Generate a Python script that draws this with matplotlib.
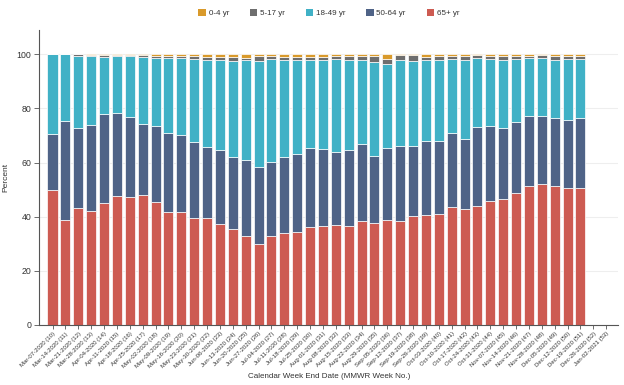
import numpy as np
import matplotlib
matplotlib.use("Agg")
import matplotlib.pyplot as plt
from matplotlib.patches import Patch

plt.rcParams['font.family'] = ['Liberation Sans', 'DejaVu Sans']

weeks = ["Mar-07-2020 (10)", "Mar-14-2020 (11)", "Mar-21-2020 (12)", "Mar-28-2020 (13)",
         "Apr-04-2020 (14)", "Apr-11-2020 (15)", "Apr-18-2020 (16)", "Apr-25-2020 (17)",
         "May-02-2020 (18)", "May-09-2020 (19)", "May-16-2020 (20)", "May-23-2020 (21)",
         "May-30-2020 (22)", "Jun-06-2020 (23)", "Jun-13-2020 (24)", "Jun-20-2020 (25)",
         "Jun-27-2020 (26)", "Jul-04-2020 (27)", "Jul-11-2020 (28)", "Jul-18-2020 (29)",
         "Jul-25-2020 (30)", "Aug-01-2020 (31)", "Aug-08-2020 (32)", "Aug-15-2020 (33)",
         "Aug-22-2020 (34)", "Aug-29-2020 (35)", "Sep-05-2020 (36)", "Sep-12-2020 (37)",
         "Sep-19-2020 (38)", "Sep-26-2020 (39)", "Oct-03-2020 (40)", "Oct-10-2020 (41)",
         "Oct-17-2020 (42)", "Oct-24-2020 (43)", "Oct-31-2020 (44)", "Nov-07-2020 (45)",
         "Nov-14-2020 (46)", "Nov-21-2020 (47)", "Nov-28-2020 (48)", "Dec-05-2020 (49)",
         "Dec-12-2020 (50)", "Dec-19-2020 (51)", "Dec-26-2020 (52)", "Jan-02-2021 (53)"]

age_65_plus = [49.8, 38.7, 43.1, 42.1, 44.9, 47.7, 47.4, 48.0, 45.4, 41.9, 41.7, 39.7,
               39.5, 37.3, 35.4, 33.0, 30.0, 32.8, 33.9, 34.4, 36.3, 36.7, 36.8, 36.4,
               38.4, 37.6, 38.7, 38.3, 40.3, 40.7, 41.0, 43.5, 42.9, 44.0, 45.9, 46.5,
               48.6, 51.3, 52.0, 51.5, 50.7, 50.7]
age_50_64 = [20.6, 36.8, 29.7, 31.7, 33.0, 30.5, 29.4, 26.4, 28.0, 29.1, 28.5, 28.0,
             26.3, 27.3, 26.5, 27.9, 28.2, 27.3, 28.0, 28.6, 29.0, 28.2, 27.2, 28.4,
             28.6, 24.9, 26.6, 27.8, 26.0, 27.3, 26.9, 27.5, 25.7, 29.3, 27.8, 26.4,
             26.3, 25.9, 25.2, 25.0, 25.2, 25.7]
age_18_49 = [29.6, 24.5, 26.6, 25.5, 21.1, 21.2, 22.7, 24.7, 25.3, 27.8, 28.5, 30.5,
             32.1, 33.2, 35.6, 37.1, 39.4, 38.2, 36.1, 35.1, 32.6, 33.2, 34.2, 33.0,
             30.8, 34.6, 31.2, 31.8, 31.2, 29.8, 29.9, 27.2, 29.4, 25.2, 24.7, 24.9,
             23.4, 21.6, 21.3, 21.5, 22.4, 21.9]
age_5_17 = [0.0, 0.0, 0.6, 0.3, 0.6, 0.3, 0.2, 0.5, 0.8, 0.7, 0.7, 1.1,
            1.2, 1.1, 1.4, 0.7, 1.7, 1.2, 1.0, 0.9, 1.1, 1.1, 1.1, 1.6,
            1.7, 2.2, 1.7, 1.7, 2.1, 1.2, 1.5, 1.3, 1.5, 1.1, 1.1, 1.5,
            1.2, 0.7, 1.1, 1.4, 1.0, 1.1]
age_0_4 = [0.0, 0.0, 0.0, 0.4, 0.4, 0.3, 0.3, 0.4, 0.5, 0.5, 0.6, 0.7,
           0.9, 1.1, 1.1, 1.3, 0.7, 0.5, 1.0, 1.0, 1.0, 0.8, 0.7, 0.6,
           0.5, 0.7, 1.8, 0.4, 0.4, 1.0, 0.7, 0.5, 0.5, 0.4, 0.5, 0.7,
           0.5, 0.5, 0.4, 0.6, 0.7, 0.6]

series = [("65+ yr", age_65_plus, "#CD5B52"),
          ("50-64 yr", age_50_64, "#4F6387"),
          ("18-49 yr", age_18_49, "#40B1C6"),
          ("5-17 yr", age_5_17, "#6E6E6E"),
          ("0-4 yr", age_0_4, "#D99A2B")]

fig = plt.figure(figsize=(6.24, 3.85), dpi=100)
ax = fig.add_axes([0.0625, 0.156, 0.9275, 0.766])

x = np.arange(len(age_65_plus))
bottom = np.zeros(len(x))
for name, vals, col in series:
    v = np.array(vals)
    ax.bar(x, v, bottom=bottom, width=0.78, color=col, edgecolor="white",
           linewidth=0.5, zorder=2)
    bottom += v

ax.set_xlim(-1.05, 43.9)
ax.set_ylim(0, 109)
ax.set_yticks([0, 20, 40, 60, 80, 100])
ax.yaxis.grid(True, color="#eeeeee", linewidth=0.8, zorder=0)
ax.set_axisbelow(True)

ax.set_xticks(np.arange(len(weeks)))
ax.set_xticklabels(weeks, rotation=45, ha="right", va="top",
                   rotation_mode="anchor", fontsize=4.3, color="#333333")
ax.tick_params(axis="x", length=3, width=0.6, color="#555555", pad=1.5)
ax.tick_params(axis="y", length=3.5, width=0.6, color="#555555", labelsize=6.3,
               labelcolor="#333333", pad=2)

for s in ["top", "right"]:
    ax.spines[s].set_visible(False)
for s in ["left", "bottom"]:
    ax.spines[s].set_color("#555555")
    ax.spines[s].set_linewidth(0.8)

ax.set_ylabel("Percent", fontsize=6, color="#333333")
ax.yaxis.set_label_coords(-0.052, 0.5)
fig.text(0.527, 0.023, "Calendar Week End Date (MMWR Week No.)", ha="center",
         va="center", fontsize=5.8, color="#333333")

handles = [Patch(facecolor=c, edgecolor="none", label=n) for n, _, c in reversed(series)]
fig.legend(handles=handles, loc="center", bbox_to_anchor=(0.527, 0.966), ncol=5,
           frameon=False, fontsize=5.8, handlelength=0.9, handleheight=0.9,
           handletextpad=0.35, columnspacing=2.6, labelcolor="#333333")

fig.savefig("out.png", dpi=100)
